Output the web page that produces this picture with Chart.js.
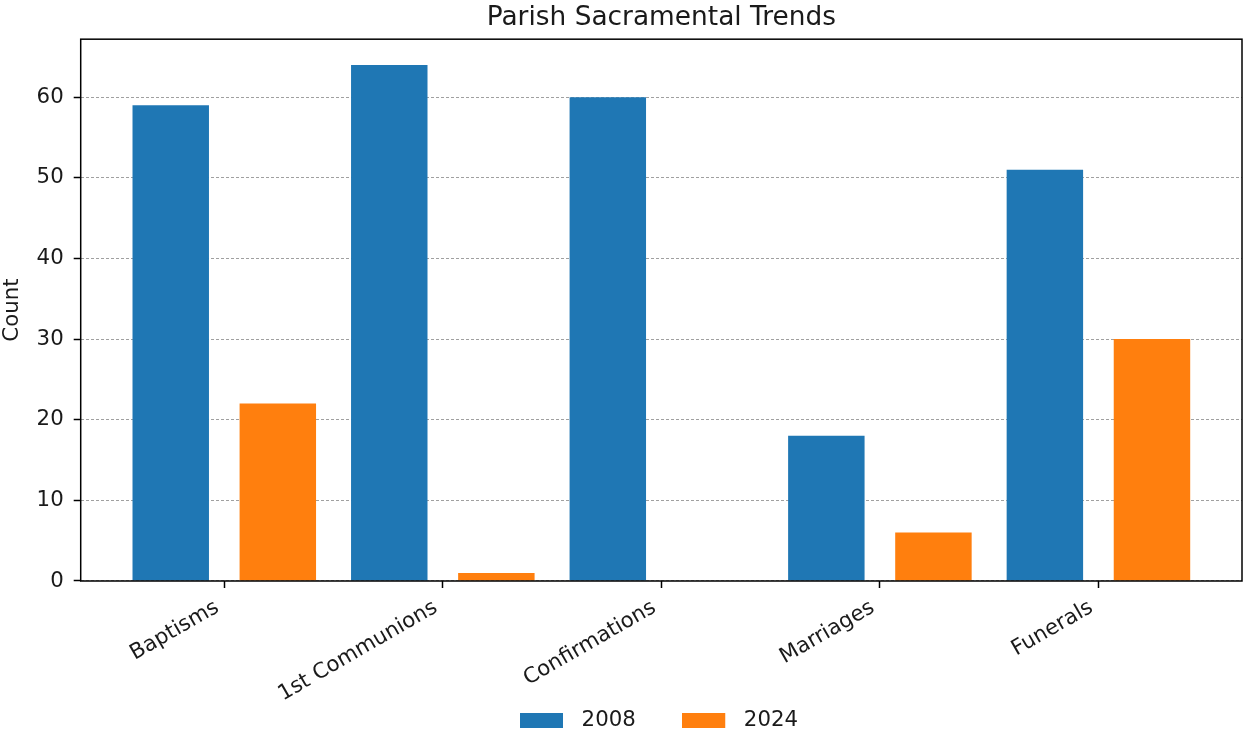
<!DOCTYPE html>
<html>
<head>
<meta charset="utf-8">
<script src="https://cdn.jsdelivr.net/npm/chart.js@4.4.1/dist/chart.umd.min.js"></script>
<style>
  html, body { margin: 0; padding: 0; background: #fff; }
  #wrap { width: 1245px; height: 736px; position: relative; }
</style>
</head>
<body>
<div id="wrap"><canvas id="c"></canvas></div>
<script>
const categories = ['Baptisms', '1st Communions', 'Confirmations', 'Marriages', 'Funerals'];
const seriesNames = ['2008', '2024'];
const counts2008 = [59, 64, 60, 18, 51];
const counts2024 = [22, 1, 0, 6, 30];
const yTickValues = [0, 10, 20, 30, 40, 50, 60];
const seriesColors = ['#1f77b4', '#ff7f0e'];
const chartTitle = 'Parish Sacramental Trends';
const yTitle = 'Count';

const FONT = "'DejaVu Sans', 'Liberation Sans', sans-serif";
const TEXT = '#1a1a1a';
const FS = 21.3;
Chart.defaults.font.family = FONT;
Chart.defaults.color = TEXT;

// legend swatch: 43x15 box followed by a transparent gap
function swatch(color) {
  const cv = document.createElement('canvas');
  cv.width = 51; cv.height = 15;
  const g = cv.getContext('2d');
  g.fillStyle = color;
  g.fillRect(0, 0, 43, 15);
  return cv;
}
const swatches = seriesColors.map(swatch);

const framePlugin = {
  id: 'frame',
  afterLayout(chart) {
    const a = chart.chartArea;
    const plotCenter = (a.left + a.right) / 2;
    if (chart.titleBlock) {
      const tb = chart.titleBlock;
      const c = (tb.left + tb.right) / 2;
      tb.left += 2 * (plotCenter - c);
    }
    if (chart.legend) {
      chart.legend.left += 76;
      chart.legend.top += 5;
      chart.legend.bottom += 5;
    }
    if (chart.scales.x) { chart.scales.x.bottom = chart.height; }
  },
  afterDatasetsDraw(chart) {
    const a = chart.chartArea, ctx = chart.ctx;
    ctx.save();
    ctx.strokeStyle = '#000';
    ctx.lineWidth = 1.5;
    ctx.strokeRect(a.left, a.top, a.right - a.left, a.bottom - a.top);
    ctx.restore();
  }
};

new Chart(document.getElementById('c'), {
  type: 'bar',
  data: {
    datasets: [
      { label: seriesNames[0], data: categories.map((c, i) => ({ x: i, y: counts2008[i] })),
        backgroundColor: seriesColors[0], borderWidth: 0 },
      { label: seriesNames[1], data: categories.map((c, i) => ({ x: i, y: counts2024[i] })),
        backgroundColor: seriesColors[1], borderWidth: 0 }
    ]
  },
  options: {
    responsive: true,
    maintainAspectRatio: false,
    animation: false,
    layout: { padding: { left: 0, right: 3, top: 0, bottom: 0 } },
    datasets: { bar: { categoryPercentage: 0.98, barPercentage: 0.714, grouped: true } },
    plugins: {
      title: {
        display: true, text: chartTitle, color: TEXT,
        font: { size: 26.4, weight: 'normal', family: FONT, lineHeight: 1.2 },
        padding: { top: 2.2, bottom: 5.3 }
      },
      legend: {
        position: 'bottom', align: 'center',
        labels: {
          usePointStyle: true, pointStyleWidth: 51, boxWidth: 51, boxHeight: 15,
          padding: 46.4, color: TEXT,
          font: { size: FS, family: FONT, lineHeight: 1 },
          generateLabels(chart) {
            const items = Chart.defaults.plugins.legend.labels.generateLabels(chart);
            items.forEach((it, i) => { it.pointStyle = swatches[i]; });
            return items;
          }
        }
      },
      tooltip: { enabled: false }
    },
    scales: {
      x: {
        type: 'linear', min: -0.657, max: 4.657, offset: false,
        afterBuildTicks(scale) { scale.ticks = categories.map((c, i) => ({ value: i })); },
        afterFit(scale) { scale.height = 77.3; },
        ticks: {
          autoSkip: false, maxRotation: 30, minRotation: 30, padding: 7, labelOffset: -7,
          font: { size: FS, family: FONT }, color: TEXT,
          callback(v) { return categories[v] !== undefined ? categories[v] : ''; }
        },
        grid: { offset: false, drawOnChartArea: false, drawTicks: true, tickLength: 7, tickWidth: 1.5, tickColor: '#000' },
        border: { display: false }
      },
      y: {
        min: 0, max: 67.2,
        afterBuildTicks(scale) { scale.ticks = yTickValues.map(v => ({ value: v })); },
        afterFit(scale) { scale.width = 80.7; },
        ticks: { padding: 10, font: { size: FS, family: FONT }, color: TEXT },
        title: {
          display: true, text: yTitle, color: TEXT,
          font: { size: FS, family: FONT, lineHeight: 1.2 }, padding: { top: 0, bottom: 0 }
        },
        grid: {
          drawOnChartArea: true, color: 'rgba(128,128,128,0.75)', lineWidth: 1,
          drawTicks: true, tickLength: 7, tickWidth: 1.5, tickColor: '#000', tickBorderDash: []
        },
        border: { display: false, dash: [3, 2] }
      }
    }
  },
  plugins: [framePlugin]
});
</script>
</body>
</html>
